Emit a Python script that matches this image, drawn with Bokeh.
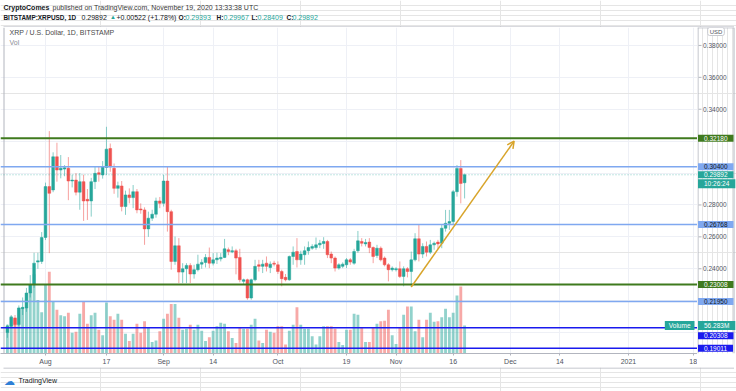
import pandas as pd
from bokeh.plotting import figure
from bokeh.layouts import column, row
from bokeh.models import (ColumnDataSource, Range1d, FixedTicker, Label, Span, Arrow,
                          OpenHead, Grid)
from bokeh.core.properties import value
from bokeh.embed import file_html
from bokeh.resources import INLINE

# ---------------- data (XRP / USD, daily, Bitstamp) ----------------
first_day = "2020-07-22"
opens = [0.2000, 0.2040, 0.2092, 0.2050, 0.2150, 0.2154, 0.2248, 0.2300, 0.2442, 0.2446,
         0.2596, 0.2915, 0.2894, 0.3102, 0.3019, 0.3025, 0.3030, 0.2950, 0.2956, 0.2880,
         0.2946, 0.2835, 0.2825, 0.2946, 0.3002, 0.2988, 0.3035, 0.3154, 0.3030, 0.2904,
         0.2919, 0.2790, 0.2863, 0.2846, 0.2883, 0.2775, 0.2769, 0.2650, 0.2717, 0.2742,
         0.2825, 0.2810, 0.2950, 0.2758, 0.2446, 0.2544, 0.2379, 0.2400, 0.2421, 0.2367,
         0.2394, 0.2429, 0.2440, 0.2471, 0.2435, 0.2456, 0.2462, 0.2471, 0.2519, 0.2506,
         0.2513, 0.2471, 0.2321, 0.2331, 0.2217, 0.2331, 0.2425, 0.2415, 0.2435, 0.2408,
         0.2435, 0.2425, 0.2383, 0.2346, 0.2331, 0.2477, 0.2508, 0.2456, 0.2488, 0.2513,
         0.2529, 0.2533, 0.2550, 0.2558, 0.2571, 0.2492, 0.2467, 0.2404, 0.2415, 0.2425,
         0.2456, 0.2435, 0.2513, 0.2571, 0.2556, 0.2567, 0.2533, 0.2483, 0.2529, 0.2467,
         0.2425, 0.2394, 0.2394, 0.2400, 0.2352, 0.2400, 0.2383, 0.2456, 0.2588, 0.2492,
         0.2540, 0.2504, 0.2550, 0.2567, 0.2560, 0.2654, 0.2685, 0.2696, 0.2883, 0.3029,
         0.29393]
highs = [0.2050, 0.2110, 0.2110, 0.2170, 0.2220, 0.2280, 0.2360, 0.2500, 0.2500, 0.2630,
         0.2940, 0.3263, 0.3130, 0.3190, 0.3113, 0.3050, 0.3100, 0.2990, 0.3000, 0.3000,
         0.2990, 0.2900, 0.2970, 0.3040, 0.3040, 0.3075, 0.3290, 0.3185, 0.3060, 0.2946,
         0.2950, 0.2890, 0.2904, 0.2925, 0.2900, 0.2810, 0.2785, 0.2758, 0.2770, 0.2846,
         0.2850, 0.2988, 0.3040, 0.2770, 0.2602, 0.2592, 0.2435, 0.2435, 0.2435, 0.2425,
         0.2488, 0.2460, 0.2492, 0.2533, 0.2498, 0.2500, 0.2498, 0.2587, 0.2533, 0.2540,
         0.2525, 0.2525, 0.2338, 0.2338, 0.2338, 0.2456, 0.2456, 0.2456, 0.2477, 0.2446,
         0.2450, 0.2446, 0.2394, 0.2367, 0.2483, 0.2540, 0.2592, 0.2513, 0.2540, 0.2571,
         0.2554, 0.2596, 0.2581, 0.2598, 0.2581, 0.2508, 0.2477, 0.2435, 0.2440, 0.2467,
         0.2467, 0.2525, 0.2637, 0.2592, 0.2587, 0.2592, 0.2540, 0.2550, 0.2540, 0.2477,
         0.2435, 0.2415, 0.2410, 0.2446, 0.2415, 0.2410, 0.2508, 0.2623, 0.2675, 0.2560,
         0.2571, 0.2581, 0.2571, 0.2581, 0.2675, 0.2769, 0.2769, 0.2894, 0.3050, 0.3081,
         0.29967]
lows = [0.1967, 0.2030, 0.2030, 0.2040, 0.2110, 0.2130, 0.2220, 0.2280, 0.2400, 0.2430,
        0.2580, 0.2498, 0.2880, 0.2946, 0.2967, 0.2980, 0.2830, 0.2910, 0.2860, 0.2770,
        0.2700, 0.2706, 0.2727, 0.2900, 0.2946, 0.2965, 0.2988, 0.3008, 0.2870, 0.2846,
        0.2760, 0.2738, 0.2810, 0.2780, 0.2748, 0.2745, 0.2550, 0.2600, 0.2700, 0.2720,
        0.2780, 0.2790, 0.2633, 0.2394, 0.2425, 0.2310, 0.2310, 0.2310, 0.2310, 0.2338,
        0.2383, 0.2400, 0.2408, 0.2404, 0.2421, 0.2430, 0.2446, 0.2467, 0.2485, 0.2498,
        0.2365, 0.2315, 0.2298, 0.2206, 0.2206, 0.2321, 0.2383, 0.2373, 0.2383, 0.2373,
        0.2415, 0.2367, 0.2290, 0.2321, 0.2325, 0.2425, 0.2408, 0.2425, 0.2425, 0.2488,
        0.2519, 0.2519, 0.2529, 0.2525, 0.2467, 0.2435, 0.2383, 0.2394, 0.2404, 0.2404,
        0.2425, 0.2425, 0.2500, 0.2540, 0.2540, 0.2498, 0.2435, 0.2467, 0.2446, 0.2415,
        0.2321, 0.2383, 0.2383, 0.2342, 0.2290, 0.2346, 0.2288, 0.2446, 0.2446, 0.2467,
        0.2477, 0.2492, 0.2519, 0.2525, 0.2529, 0.2633, 0.2644, 0.2675, 0.2852, 0.2810,
        0.28409]
closes = [0.2040, 0.2096, 0.2050, 0.2154, 0.2158, 0.2248, 0.2300, 0.2435, 0.2450, 0.2596,
          0.2915, 0.2873, 0.3102, 0.3019, 0.3030, 0.3033, 0.2950, 0.2956, 0.2880, 0.2946,
          0.2825, 0.2825, 0.2946, 0.2998, 0.2992, 0.3040, 0.3150, 0.3040, 0.2904, 0.2921,
          0.2790, 0.2863, 0.2846, 0.2883, 0.2769, 0.2769, 0.2650, 0.2717, 0.2742, 0.2825,
          0.2810, 0.2950, 0.2758, 0.2446, 0.2544, 0.2379, 0.2400, 0.2421, 0.2367, 0.2394,
          0.2429, 0.2440, 0.2471, 0.2435, 0.2456, 0.2467, 0.2471, 0.2525, 0.2508, 0.2513,
          0.2467, 0.2331, 0.2331, 0.2217, 0.2331, 0.2415, 0.2415, 0.2429, 0.2415, 0.2429,
          0.2429, 0.2383, 0.2338, 0.2331, 0.2477, 0.2504, 0.2456, 0.2492, 0.2513, 0.2533,
          0.2540, 0.2550, 0.2560, 0.2571, 0.2488, 0.2467, 0.2404, 0.2425, 0.2429, 0.2456,
          0.2442, 0.2508, 0.2575, 0.2560, 0.2565, 0.2533, 0.2477, 0.2529, 0.2456, 0.2425,
          0.2394, 0.2404, 0.2400, 0.2352, 0.2400, 0.2383, 0.2456, 0.2588, 0.2492, 0.2540,
          0.2504, 0.2550, 0.2560, 0.2556, 0.2654, 0.2685, 0.2696, 0.2883, 0.3029, 0.2935,
          0.29892]
volumes_m = [58, 75, 70, 92, 92, 122, 139, 160, 108, 83,
             139, 165, 105, 88, 77, 75, 82, 42, 44, 80,
             105, 60, 77, 82, 48, 37, 103, 75, 68, 80,
             68, 40, 25, 40, 60, 42, 65, 52, 23, 26,
             45, 70, 80, 100, 100, 72, 48, 50, 58, 48,
             58, 46, 25, 33, 46, 55, 62, 60, 45, 31,
             21, 53, 50, 50, 58, 70, 26, 21, 48, 44,
             42, 55, 55, 18, 46, 58, 93, 58, 50, 50,
             35, 18, 35, 55, 55, 55, 50, 23, 17, 48,
             48, 80, 78, 53, 23, 23, 53, 60, 65, 66,
             88, 37, 19, 53, 78, 95, 95, 45, 68, 33,
             68, 82, 64, 65, 73, 90, 73, 82, 117, 135,
             56.283]

tick_dates = ["2020-08-01", "2020-08-17", "2020-09-01", "2020-09-14", "2020-10-01", "2020-10-19",
              "2020-11-01", "2020-11-16", "2020-12-01", "2020-12-14", "2021-01-01", "2021-01-18"]
tick_labels = ["Aug", "17", "Sep", "14", "Oct", "19", "Nov", "16", "Dec", "14", "2021", "18"]
price_ticks = [0.24, 0.26, 0.28, 0.34, 0.36, 0.38]
grid_levels = [0.20, 0.22, 0.24, 0.26, 0.28, 0.30, 0.32, 0.34, 0.36, 0.38]

green_levels = [0.32180, 0.23008]
lightblue_levels = [0.30400, 0.26768, 0.21950]
darkblue_levels = [0.20308, 0.19011]
last_price = 0.29892
countdown = "10:26:24"
last_volume_label = "56.283M"
arrow_dates = ["2020-11-05", "2020-12-02"]
arrow_prices = [0.2286, 0.3200]

# ---------------- derived ----------------
UP, DOWN = "#26a69a", "#ef5350"
GREEN, LBLUE, DBLUE = "#3f7a1e", "#7fa8f0", "#1a1aee"
BORDER = "#b2b5be"
FONT = "Liberation Sans"
origin = pd.Timestamp("2020-08-01")
dates = pd.date_range(first_day, periods=len(opens), freq="D")
xs = [(d - origin).days for d in dates]
src = ColumnDataSource(dict(
    x=xs, o=opens, h=highs, l=lows, c=closes, v=volumes_m,
    top=[max(o, c) for o, c in zip(opens, closes)],
    bot=[min(o, c) for o, c in zip(opens, closes)],
    col=[UP if c >= o else DOWN for o, c in zip(opens, closes)],
))
tick_x = [(pd.Timestamp(t) - origin).days for t in tick_dates]

W = 736
HEAD_H, FOOT_H = 27, 24
FW, FH, AXIS_H = 697, 327, 13
RW = W - FW            # price-scale column (39 px, box edge at 36)
BOX_L, BOX_R = 3, 733  # outer box edges in page pixels
VOL_PER_PX = 2.01
Y0, Y1 = 0.186875, 0.39125


def blank(w, h):
    f = figure(width=w, height=h, output_backend="svg", toolbar_location=None,
               x_range=Range1d(0, w), y_range=Range1d(h, 0),
               x_axis_location=None, y_axis_location=None,
               min_border=0, min_border_left=0, min_border_right=0,
               min_border_top=0, min_border_bottom=0)
    f.outline_line_color = None
    f.background_fill_color = "white"
    f.border_fill_color = "white"
    return f


def txt(f, x, y, s, color="#131722", size="7px", bold=False, align="left"):
    f.text(x=[x], y=[y], text=[s], text_font=value(FONT), text_font_size=value(size),
           text_color=color, text_font_style="bold" if bold else "normal",
           text_align=align, text_baseline="middle")


# ---------------- header ----------------
head = blank(W, HEAD_H)
txt(head, 3, 6.5, "CryptoComes", bold=True)
txt(head, 52, 6.5, "published on TradingView.com, November 19, 2020 13:33:38 UTC", color="#3a3a3a")
txt(head, 3, 16.5, "BITSTAMP:XRPUSD, 1D", bold=True, size="6.4px")
txt(head, 81, 16.5, "0.29892")
txt(head, 109.5, 16.5, "\u25b2", color=UP, size="6px")
txt(head, 116, 16.5, "+0.00522 (+1.78%)")
for xl, lab, xv, val in [(178, "O:", 185, "0.29393"), (216, "H:", 223, "0.29967"),
                         (251, "L:", 257, "0.28409"), (286, "C:", 292, "0.29892")]:
    txt(head, xl, 16.5, lab, bold=True, size="6.6px")
    txt(head, xv, 16.5, val, color=UP)
head.segment(x0=[BOX_L], y0=[HEAD_H - 0.5], x1=[BOX_R + 0.5], y1=[HEAD_H - 0.5],
             line_color=BORDER, line_width=1)

# ---------------- main chart ----------------
p = figure(width=FW, height=FH + AXIS_H, output_backend="svg", toolbar_location=None,
           x_range=Range1d(-11.811, 171.129), y_range=Range1d(Y0, Y1),
           y_axis_location=None,
           min_border_left=0, min_border_right=0, min_border_top=0, min_border_bottom=AXIS_H)
p.background_fill_color = "white"
p.border_fill_color = "white"
p.outline_line_color = None
p.extra_y_ranges = {"vol": Range1d(0, FH * VOL_PER_PX)}

xa = p.xaxis[0]
xa.ticker = FixedTicker(ticks=tick_x)
xa.major_label_overrides = {t: s for t, s in zip(tick_x, tick_labels)}
xa.major_label_text_font = FONT
xa.major_label_text_font_size = "7px"
xa.major_label_text_color = "#50535e"
xa.axis_line_color = BORDER
xa.major_tick_line_color = BORDER
xa.major_tick_out = 2
xa.major_tick_in = 0
xa.minor_tick_line_color = None
xa.major_label_standoff = 2

p.xgrid.ticker = FixedTicker(ticks=tick_x)
p.xgrid.grid_line_color = "#eef0f6"
p.add_layout(Grid(dimension=1, ticker=FixedTicker(ticks=grid_levels), grid_line_color="#eef0f6"))
p.add_layout(Span(location=BOX_L + 0.5, location_units="screen", dimension="height",
                  line_color=BORDER, line_width=1))

p.vbar(x="x", top="v", bottom=0, width=0.75, source=src, y_range_name="vol",
       fill_color="col", line_color=None, fill_alpha=0.5)

for lv in darkblue_levels:
    p.add_layout(Span(location=lv, dimension="width", line_color=DBLUE, line_width=1.5))
for lv in lightblue_levels:
    p.add_layout(Span(location=lv, dimension="width", line_color=LBLUE, line_width=1.5))
for lv in green_levels:
    p.add_layout(Span(location=lv, dimension="width", line_color=GREEN, line_width=2))
p.add_layout(Span(location=last_price, dimension="width", line_color=UP, line_alpha=0.55,
                  line_width=1, line_dash="1 2"))

p.segment(x0="x", y0="l", x1="x", y1="h", source=src, line_color="col", line_alpha=0.55, line_width=1)
p.vbar(x="x", top="top", bottom="bot", width=0.72, source=src, fill_color="col",
       line_color="col", line_width=0.5)

ax = [(pd.Timestamp(t) - origin).days for t in arrow_dates]
p.add_layout(Arrow(x_start=ax[0], y_start=arrow_prices[0], x_end=ax[1], y_end=arrow_prices[1],
                   line_color="#d8a42a", line_width=1.5,
                   end=OpenHead(line_color="#d8a42a", line_width=1.5, size=7)))

p.add_layout(Label(x=9, y=FH - 6, x_units="screen", y_units="screen",
                   text="XRP / U.S. Dollar, 1D, BITSTAMP", text_font=FONT, text_font_size="7px",
                   text_color="#4a4a4a", text_baseline="middle"))
p.add_layout(Label(x=9, y=FH - 16, x_units="screen", y_units="screen", text="Vol",
                   text_font=FONT, text_font_size="7px", text_color="#8a8d96",
                   text_baseline="middle"))
p.add_layout(Label(x=FW - 3, y=volumes_m[-1], x_units="screen", y_range_name="vol", text="Volume",
                   text_font=FONT, text_font_size="6.5px", text_color="white",
                   text_align="right", text_baseline="middle", background_fill_color=UP,
                   padding=dict(left=4, right=4, top=1, bottom=1)))

# ---------------- price scale column ----------------
r = figure(width=RW, height=FH + AXIS_H, output_backend="svg", toolbar_location=None,
           x_range=Range1d(0, RW), y_range=p.y_range,
           x_axis_location=None, y_axis_location=None,
           min_border_left=0, min_border_right=0, min_border_top=0, min_border_bottom=AXIS_H)
r.outline_line_color = None
r.background_fill_color = "white"
r.border_fill_color = "white"
r.extra_y_ranges = {"vol": p.extra_y_ranges["vol"]}

edge = BOX_R - FW
r.segment(x0=[0.5, edge + 0.5, 0], y0=[Y0, Y0, Y1 - 0.3 / 1600],
          x1=[0.5, edge + 0.5, edge + 0.5], y1=[Y1, Y1, Y1 - 0.3 / 1600],
          line_color=BORDER, line_width=1)

r.segment(x0=[1] * len(price_ticks), y0=price_ticks, x1=[4] * len(price_ticks), y1=price_ticks,
          line_color=BORDER, line_width=1)
r.text(x=[5.5] * len(price_ticks), y=price_ticks, text=[f"{t:.5f}" for t in price_ticks],
       text_font=value(FONT), text_font_size=value("6.5px"), text_color="#50535e",
       text_baseline="middle")


def tag(price, text, bg, fg="white", y_offset=0, range_name="default"):
    r.add_layout(Label(x=0.5, y=price, y_range_name=range_name, text=text,
                       text_font=FONT, text_font_size="6.5px", text_color=fg,
                       text_align="left", text_baseline="middle", y_offset=y_offset,
                       background_fill_color=bg,
                       padding=dict(left=6, right=6, top=1, bottom=1)))


for lv in green_levels:
    tag(lv, f"{lv:.5f}", GREEN)
for lv in lightblue_levels:
    tag(lv, f"{lv:.5f}", LBLUE, fg="#131722")
tag(last_price, f"{last_price:.5f}", UP)
tag(last_price, countdown, UP, y_offset=-9)
tag(volumes_m[-1], last_volume_label, UP, range_name="vol")
tag(darkblue_levels[0], f"{darkblue_levels[0]:.5f}", DBLUE, y_offset=-8)
tag(darkblue_levels[1], f"{darkblue_levels[1]:.5f}", DBLUE)
r.add_layout(Label(x=edge / 2 + 0.5, y=FH - 5, y_units="screen", text="USD",
                   text_font=FONT, text_font_size="6px", text_color="#50535e",
                   text_align="center", text_baseline="middle", background_fill_color="white",
                   border_line_color="#c8cad0", border_radius=2,
                   padding=dict(left=2, right=2, top=1, bottom=1)))

# ---------------- footer ----------------
foot = blank(W, FOOT_H)
foot.segment(x0=[BOX_L], y0=[0.5], x1=[BOX_R + 0.5], y1=[0.5], line_color=BORDER, line_width=1)
txt(foot, 3, 13, "\u2601", color="#2e7fd6", size="11px")
txt(foot, 18, 13, "TradingView", size="7px")

layout = column(head, row(p, r, spacing=0), foot, spacing=0)
open("out.html", "w").write(file_html(layout, INLINE))
